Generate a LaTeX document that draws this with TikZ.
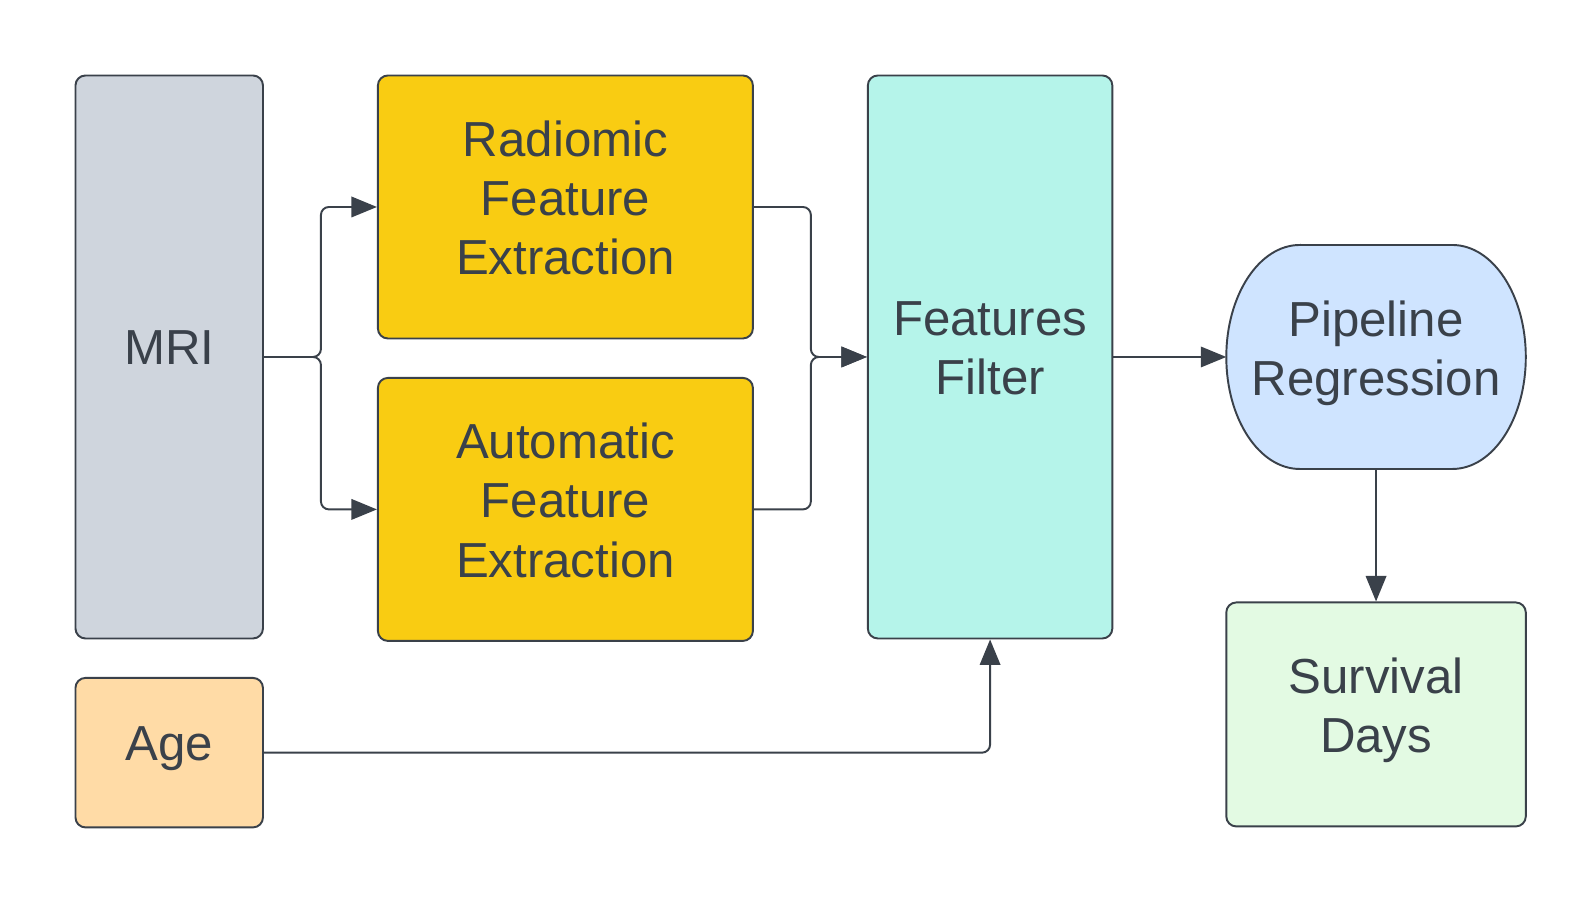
\documentclass[tikz,border=0pt]{standalone}
\usepackage{fontspec}
\setmainfont{Liberation Sans}
\usepackage{xcolor}
\definecolor{LineColor}{RGB}{58,65,74}
\definecolor{MriColor}{RGB}{207,213,221}
\definecolor{ExtractColor}{RGB}{249,204,18}
\definecolor{FilterColor}{RGB}{181,244,234}
\definecolor{RegColor}{RGB}{207,228,255}
\definecolor{OutColor}{RGB}{227,250,227}
\definecolor{AgeColor}{RGB}{255,219,166}
\usetikzlibrary{positioning, arrows.meta, backgrounds}

\begin{document}
\begin{tikzpicture}[
    block/.style={rectangle, draw=LineColor, line width=1.1pt, rounded corners=0.2cm, align=center, text=LineColor, text depth=0.37cm, font=\fontsize{28}{33.6}\selectfont},
    arrow/.style={-{Triangle[length=0.51cm, width=0.41cm]}, draw=LineColor, line width=1.1pt, rounded corners=0.16cm},
]

% Canvas
\useasboundingbox (0,0) rectangle (31.92,-18);

% MRI input
\node[block, fill=MriColor, minimum width=3.75cm, minimum height=11.26cm, anchor=north west] (mri) at (1.49,-1.49) {MRI};

% Feature extraction
\node[block, fill=ExtractColor, minimum width=7.5cm, minimum height=5.26cm, below right=0cm and 2.26cm of mri.north east] (rad) {
    Radiomic\\
    Feature\\
    Extraction
};
\node[block, fill=ExtractColor, minimum width=7.5cm, minimum height=5.26cm, below=0.75cm of rad] (auto) {
    Automatic\\
    Feature\\
    Extraction
};

% Filter
\node[block, fill=FilterColor, minimum width=4.89cm, minimum height=11.26cm, below right=0cm and 2.26cm of rad.north east] (ff) {
    Features\\
    Filter
};

% Regression
\node[block, draw=none, fill=none, outer sep=0pt, minimum width=5.99cm, minimum height=4.48cm, right=2.26cm of ff] (pipe) {
    Pipeline\\
    Regression
};
\begin{scope}[on background layer]
\draw[draw=LineColor, line width=1.1pt, fill=RegColor] ([xshift=1.47cm]pipe.north west) -- ([xshift=-1.47cm]pipe.north east)
    arc[start angle=90, end angle=-90, x radius=1.47cm, y radius=2.24cm]
    -- ([xshift=1.47cm]pipe.south west)
    arc[start angle=270, end angle=90, x radius=1.47cm, y radius=2.24cm] -- cycle;
\end{scope}

% Output
\node[block, fill=OutColor, minimum width=5.99cm, minimum height=4.48cm, below=2.65cm of pipe] (surv) {
    Survival\\
    Days
};

% Age input
\node[block, fill=AgeColor, minimum width=3.75cm, minimum height=2.99cm, below=0.75cm of mri] (age) {Age};

% Arrows
\draw[arrow] (mri.east) -| ([xshift=-1.12cm]rad.west) -- (rad.west);
\draw[arrow] (mri.east) -| ([xshift=-1.12cm]auto.west) -- (auto.west);
\draw[arrow] (rad.east) -| ([xshift=-1.12cm]ff.west) -- (ff.west);
\draw[arrow] (auto.east) -| ([xshift=-1.12cm]ff.west) -- (ff.west);
\draw[arrow] (ff.east) -- (ff.east -| pipe.west);
\draw[arrow] (pipe.south) -- (surv.north);
\draw[arrow] (age.east) -| (ff.south);

\end{tikzpicture}
\end{document}
